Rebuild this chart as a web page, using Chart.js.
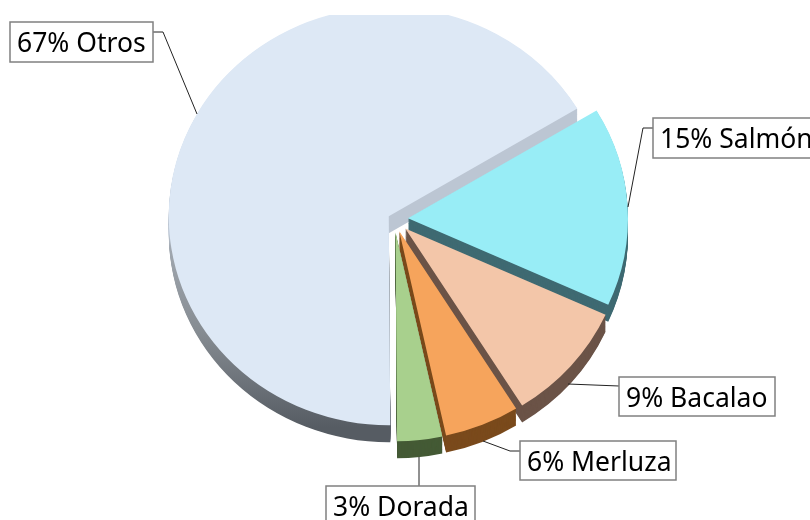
<!DOCTYPE html>
<html>
<head>
<meta charset="utf-8">
<style>html,body{margin:0;padding:0;background:#fff}canvas{display:block}</style>
<script src="https://cdn.jsdelivr.net/npm/chart.js@4"></script>
</head>
<body>
<canvas id="c" width="810" height="520"></canvas>
<script>
const categories = ['Salmón', 'Bacalao', 'Merluza', 'Dorada', 'Otros'];
const shares = [15.4, 9.3, 5.5, 3.3, 66.5];
const topColors = ['#98edf6', '#f3c6a9', '#f6a45c', '#a8d08d', '#dde8f5'];
const sideColors = ['#3f6a72', '#6b5347', '#7a4a1c', '#445a35', '#bcc6d3'];
const explode = [14, 15, 14, 14, 6];
const labelBoxes = [
  {x:653,y:118,w:170,h:40,line:[[653,128],[643,128],[628,207]]},
  {x:619,y:377,w:156,h:39,line:[[619,386],[568,384]]},
  {x:520,y:441,w:156,h:39,line:[[520,451],[510,451],[483,441]]},
  {x:326,y:486,w:149,h:44,line:[[419,486],[419,457]]},
  {x:10,y:22,w:143,h:40,line:[[153,32],[163,32],[197,114]]}
];
const DEPTH = 17, SQUASH = 0.95, CLIP_TOP = 15;

const pie3d = {
  id: 'pie3d',
  beforeDatasetsDraw(chart){
    const ctx = chart.ctx, arcs = chart.getDatasetMeta(0).data;
    ctx.save();
    ctx.beginPath(); ctx.rect(0, CLIP_TOP, 810, 520 - CLIP_TOP); ctx.clip();
    ctx.translate(0, arcs[0].y); ctx.scale(1, SQUASH); ctx.translate(0, -arcs[0].y);
    [4,0,1,2,3].forEach(i => {
      const a = arcs[i], off = explode[i], mid = (a.startAngle + a.endAngle) / 2;
      const dx = Math.cos(mid) * off, dy = Math.sin(mid) * off;
      let fill = sideColors[i];
      if (i === 4) {
        fill = ctx.createLinearGradient(0, a.y, 0, a.y + a.outerRadius);
        fill.addColorStop(0, '#bcc6d3');
        fill.addColorStop(0.07, '#bcc6d3');
        fill.addColorStop(0.14, '#a0a7af');
        fill.addColorStop(0.55, '#858b91');
        fill.addColorStop(1, '#565c63');
      }
      ctx.fillStyle = fill;
      for (let d = DEPTH / SQUASH; d > 0; d -= 1) {
        ctx.beginPath();
        ctx.moveTo(a.x + dx, a.y + dy + d);
        ctx.arc(a.x + dx, a.y + dy + d, a.outerRadius, a.startAngle, a.endAngle);
        ctx.closePath();
        ctx.fill();
      }
      ctx.save();
      ctx.translate(dx, dy);
      a.draw(ctx);
      ctx.restore();
    });
    ctx.restore();

    ctx.save();
    ctx.font = '26.5px "Noto Sans"';
    ctx.textBaseline = 'middle';
    labelBoxes.forEach((b, i) => {
      ctx.strokeStyle = '#222'; ctx.lineWidth = 1;
      ctx.beginPath();
      b.line.forEach((p, k) => k ? ctx.lineTo(p[0], p[1]) : ctx.moveTo(p[0], p[1]));
      ctx.stroke();
      ctx.fillStyle = '#fff'; ctx.fillRect(b.x, b.y, b.w, b.h);
      ctx.strokeStyle = '#808080'; ctx.lineWidth = 1.5;
      ctx.strokeRect(b.x, b.y, b.w, b.h);
      ctx.fillStyle = '#000';
      ctx.fillText(Math.round(shares[i]) + '% ' + categories[i], b.x + 7, b.y + 22);
    });
    ctx.restore();
    return false;
  }
};

new Chart(document.getElementById('c'), {
  type: 'pie',
  data: {
    labels: categories,
    datasets: [{
      data: shares,
      backgroundColor: topColors,
      borderWidth: 0,
      hoverOffset: 0
    }]
  },
  options: {
    responsive: false,
    animation: false,
    rotation: 59,
    radius: 220,
    layout: { padding: { left: 0, right: 22, top: 0, bottom: 82 } },
    plugins: { legend: { display: false }, tooltip: { enabled: false } },
    events: []
  },
  plugins: [pie3d]
});
</script>
</body>
</html>
